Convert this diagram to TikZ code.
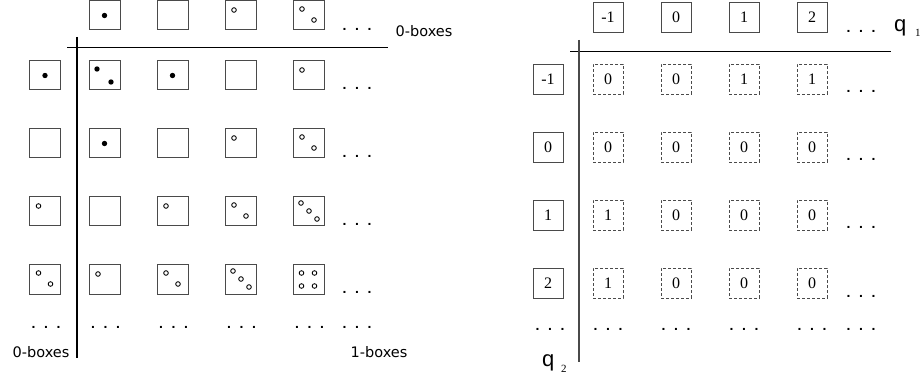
\documentclass[tikz,border=0pt]{standalone}
\usepackage{fontspec}
\setmainfont{Liberation Serif}
\newfontfamily\labelfont{DejaVu Sans}
\newfontfamily\qfont{Liberation Sans}
\usetikzlibrary{calc}

\definecolor{boxgray}{HTML}{4A4A4A}

% three spaced dots
\newcommand\threedots{.\hspace{8.6pt}.\hspace{8.6pt}.}

% filled and hollow marks inside a box
\newcommand\fd[1]{\fill[black] #1 circle[radius=2.7pt];}
\newcommand\od[1]{\draw[black,line width=0.85pt] #1 circle[radius=2.3pt];}

% marks of a box of value #2 (from -2 to 4) centred on node #1
\newcommand\markset[2]{%
  \ifcase\numexpr #2+2\relax
    \fd{($(#1)+(-7.5,-6.5)$)}\fd{($(#1)+(6.5,6.5)$)}%
  \or \fd{(#1)}%
  \or
  \or \od{($(#1)+(-6.5,-5.5)$)}%
  \or \od{($(#1)+(-6.5,-6.5)$)}\od{($(#1)+(5.5,4.5)$)}%
  \or \od{($(#1)+(-7.5,-8.5)$)}\od{($(#1)+(0.5,-0.5)$)}\od{($(#1)+(8.5,7.5)$)}%
  \or \od{($(#1)+(-7,-6.5)$)}\od{($(#1)+(6,-6.5)$)}\od{($(#1)+(-7,6.5)$)}\od{($(#1)+(6,6.5)$)}%
  \fi}

\begin{document}
\begin{tikzpicture}[x=1pt,y=-1pt,
  cell/.style={draw=boxgray,line width=1pt,minimum width=31pt,minimum height=29pt,inner sep=0pt},
  numcell/.style={draw=boxgray,line width=0.9pt,minimum width=30pt,minimum height=30pt,inner sep=0pt,
    font=\fontsize{16}{16}\selectfont},
  dashcell/.style={numcell,dash pattern=on 3pt off 2pt},
  ell/.style={font=\qfont\bfseries\fontsize{14}{14}\selectfont,anchor=base,inner sep=0pt},
  tag/.style={font=\labelfont\fontsize{14.5}{14.5}\selectfont,anchor=base,inner sep=0pt},
  qlab/.style={font=\qfont\fontsize{22}{22}\selectfont,anchor=base west,inner sep=0pt},
  qsub/.style={font=\fontsize{11}{11}\selectfont,anchor=base west,inner sep=0pt},
  axis/.style={line width=1.1pt,draw=black},
]
\useasboundingbox (0,0) rectangle (923,379);

% ---------- left table: boxes with marks ----------
\foreach \c in {1,...,4} {
  \pgfmathsetmacro\xx{104.5+68*(\c-1)}
  \node[cell] (T\c) at (\xx,15.5) {};
  \markset{T\c}{\c-2}
}
\foreach \r in {1,...,4} {
  \pgfmathsetmacro\yy{75.5+68*(\r-1)}
  \node[cell] (S\r) at (45,\yy) {};
  \markset{S\r}{\r-2}
  \foreach \c in {1,...,4} {
    \pgfmathsetmacro\xx{104.5+68*(\c-1)}
    \node[cell] (L\r\c) at (\xx,\yy) {};
    \markset{L\r\c}{\r+\c-4}
  }
  \node[ell] (LE\r) at (357,\yy+14.5) {\threedots};
}
\node[ell] (LTE) at (357,31) {\threedots};
\node[ell] (LB0) at (46,328) {\threedots};
\foreach \c in {1,...,4} {
  \pgfmathsetmacro\xx{105.5+68*(\c-1)}
  \node[ell] (LB\c) at (\xx,328) {\threedots};
}
\node[ell] (LB5) at (357,328) {\threedots};

\node[tag] (top0) at (424,37) {0-boxes};
\node[tag] (left0) at (41,357) {0-boxes};
\node[tag] (one) at (379,357) {1-boxes};

\coordinate (LHa) at (67,47.7);
\coordinate (LHb) at (388,47.7);
\coordinate (LVa) at (77,37);
\coordinate (LVb) at (77,358);
\draw[axis] (LHa) -- (LHb);
\draw[axis] (LVa) -- (LVb);

% ---------- right table: numbered boxes ----------
\foreach \v [count=\c] in {-1,0,1,2} {
  \pgfmathsetmacro\xx{608+68*(\c-1)}
  \node[numcell] (H\c) at (\xx,17.5) {\v};
}
\foreach \h/\vals [count=\r] in {-1/{0,0,1,1}, 0/{0,0,0,0}, 1/{1,0,0,0}, 2/{1,0,0,0}} {
  \pgfmathsetmacro\yy{79+68*(\r-1)}
  \node[numcell] (V\r) at (548,\yy) {\h};
  \foreach \v [count=\c] in \vals {
    \pgfmathsetmacro\xx{608+68*(\c-1)}
    \node[dashcell] (R\r\c) at (\xx,\yy) {\v};
  }
  \node[ell] (RE\r) at (861,\yy+14) {\threedots};
}
\node[ell] (RTE) at (861,33) {\threedots};
\node[ell] (RB0) at (550,330) {\threedots};
\foreach \c in {1,...,4} {
  \pgfmathsetmacro\xx{608+68*(\c-1)}
  \node[ell] (RB\c) at (\xx,330) {\threedots};
}
\node[ell] (RB5) at (861,330) {\threedots};

\node[qlab] (q1) at (894,31.5) {q};
\node[qsub] (s1) at (915,37) {1};
\node[qlab] (q2) at (542,366.5) {q};
\node[qsub] (s2) at (561,372) {2};

\coordinate (RHa) at (570,51.7);
\coordinate (RHb) at (891,51.7);
\coordinate (RVa) at (579,40);
\coordinate (RVb) at (579,362);
\draw[axis] (RHa) -- (RHb);
\draw[axis,draw=boxgray] (RVa) -- (RVb);
\end{tikzpicture}
\end{document}
